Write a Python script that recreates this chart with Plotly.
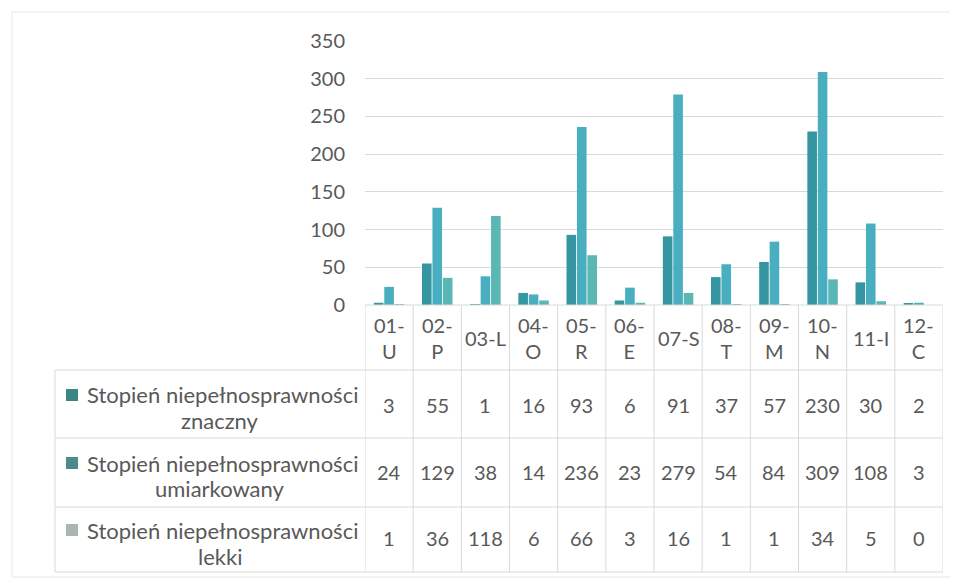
import plotly.graph_objects as go

categories = ["01-U", "02-P", "03-L", "04-O", "05-R", "06-E", "07-S", "08-T", "09-M", "10-N", "11-I", "12-C"]
category_labels = ["01-<br>U", "02-<br>P", "03-L", "04-<br>O", "05-<br>R", "06-<br>E", "07-S", "08-<br>T", "09-<br>M", "10-<br>N", "11-I", "12-<br>C"]
series_names = ["Stopień niepełnosprawności znaczny",
                "Stopień niepełnosprawności umiarkowany",
                "Stopień niepełnosprawności lekki"]
series_label_lines = [("Stopień niepełnosprawności", "znaczny"),
                      ("Stopień niepełnosprawności", "umiarkowany"),
                      ("Stopień niepełnosprawności", "lekki")]
znaczny = [3, 55, 1, 16, 93, 6, 91, 37, 57, 230, 30, 2]
umiarkowany = [24, 129, 38, 14, 236, 23, 279, 54, 84, 309, 108, 3]
lekki = [1, 36, 118, 6, 66, 3, 16, 1, 1, 34, 5, 0]
y_ticks = [0, 50, 100, 150, 200, 250, 300, 350]

colors = ["#3596a2", "#48aec0", "#5ab7b5"]
key_colors = ["#3b8585", "#4f8a8a", "#aab6b4"]
W, H = 958, 580
OFF = 8  # page body offset of the figure
FONT = "Lato"
TXT = "#595959"
GRID = "#d9d9d9"


def px(y):
    return 1 - (y - OFF) / H


def pxx(x):
    return (x - OFF) / W


xs = list(range(len(categories)))
fig = go.Figure()
for name, vals, c in zip(series_names, [znaczny, umiarkowany, lekki], colors):
    fig.add_trace(go.Bar(x=xs, y=vals, name=name, marker=dict(color=c, line=dict(width=0))))

plot_left, plot_right = 365, 943
y_top, y_zero = 41, 305
row_lines = [370, 438, 507, 572]
table_left = 55

fig.update_layout(
    width=W, height=H,
    margin=dict(l=0, r=0, t=0, b=0, autoexpand=False),
    paper_bgcolor="white", plot_bgcolor="white",
    barmode="group", bargap=0.35, bargroupgap=0.08,
    showlegend=False,
    font=dict(family=FONT, color=TXT, size=20),
    xaxis=dict(domain=[pxx(plot_left), pxx(plot_right)], range=[-0.5, len(categories) - 0.5],
               showticklabels=False, showgrid=False, zeroline=False, showline=False,
               automargin=False, fixedrange=True),
    yaxis=dict(domain=[px(y_zero), px(y_top)], range=[0, 350], tickvals=y_ticks,
               showgrid=True, gridcolor=GRID, gridwidth=1, zeroline=False, showline=False,
               automargin=False, ticks="", ticklabelstandoff=19,
               tickfont=dict(size=20, color=TXT, family=FONT)),
)

shapes = []
# outer frame
shapes.append(dict(type="rect", xref="paper", yref="paper", x0=pxx(12), x1=pxx(951), y0=px(577), y1=px(12),
                   line=dict(color="#e6e6e6", width=1), fillcolor="rgba(0,0,0,0)", layer="below"))
# horizontal table lines
shapes.append(dict(type="line", xref="paper", yref="paper", x0=pxx(plot_left), x1=pxx(plot_right),
                   y0=px(y_zero), y1=px(y_zero), line=dict(color=GRID, width=1)))
for yl in row_lines:
    shapes.append(dict(type="line", xref="paper", yref="paper", x0=pxx(table_left), x1=pxx(plot_right),
                       y0=px(yl), y1=px(yl), line=dict(color=GRID, width=1)))
# vertical lines
for i in range(len(categories) + 1):
    shapes.append(dict(type="line", xref="x", yref="paper", x0=i - 0.5, x1=i - 0.5,
                       y0=px(row_lines[-1]), y1=px(y_zero), line=dict(color=GRID, width=1)))
shapes.append(dict(type="line", xref="paper", yref="paper", x0=pxx(table_left), x1=pxx(table_left),
                   y0=px(row_lines[-1]), y1=px(row_lines[0]), line=dict(color=GRID, width=1)))

annotations = []
# header labels
for i, lab in enumerate(category_labels):
    annotations.append(dict(x=i, xref="x", y=px(338), yref="paper",
                            text=lab, showarrow=False, font=dict(size=20, color=TXT, family=FONT),
                            xanchor="center", yanchor="middle"))
# rows
num_y = [405, 472, 538]
line1_y = [395, 463, 530]
line2_y = [420, 488, 556]
for r, vals in enumerate([znaczny, umiarkowany, lekki]):
    for i, v in enumerate(vals):
        annotations.append(dict(x=i, xref="x", y=px(num_y[r]), yref="paper", text=str(v), showarrow=False,
                                font=dict(size=20, color=TXT, family=FONT), xanchor="center", yanchor="middle"))
    l1, l2 = series_label_lines[r]
    annotations.append(dict(x=pxx(222), xref="paper", y=px(line1_y[r]), yref="paper",
                            text=l1, showarrow=False,
                            font=dict(size=22, color=TXT, family=FONT), xanchor="center", yanchor="middle"))
    annotations.append(dict(x=pxx(220), xref="paper", y=px(line2_y[r]), yref="paper",
                            text=l2, showarrow=False,
                            font=dict(size=22, color=TXT, family=FONT), xanchor="center", yanchor="middle"))
    shapes.append(dict(type="rect", xref="paper", yref="paper", x0=pxx(66), x1=pxx(78),
                       y0=px(line1_y[r] + 6), y1=px(line1_y[r] - 6), fillcolor=key_colors[r], line=dict(width=0)))

fig.update_layout(shapes=shapes, annotations=annotations)
fig.write_html("out.html")
